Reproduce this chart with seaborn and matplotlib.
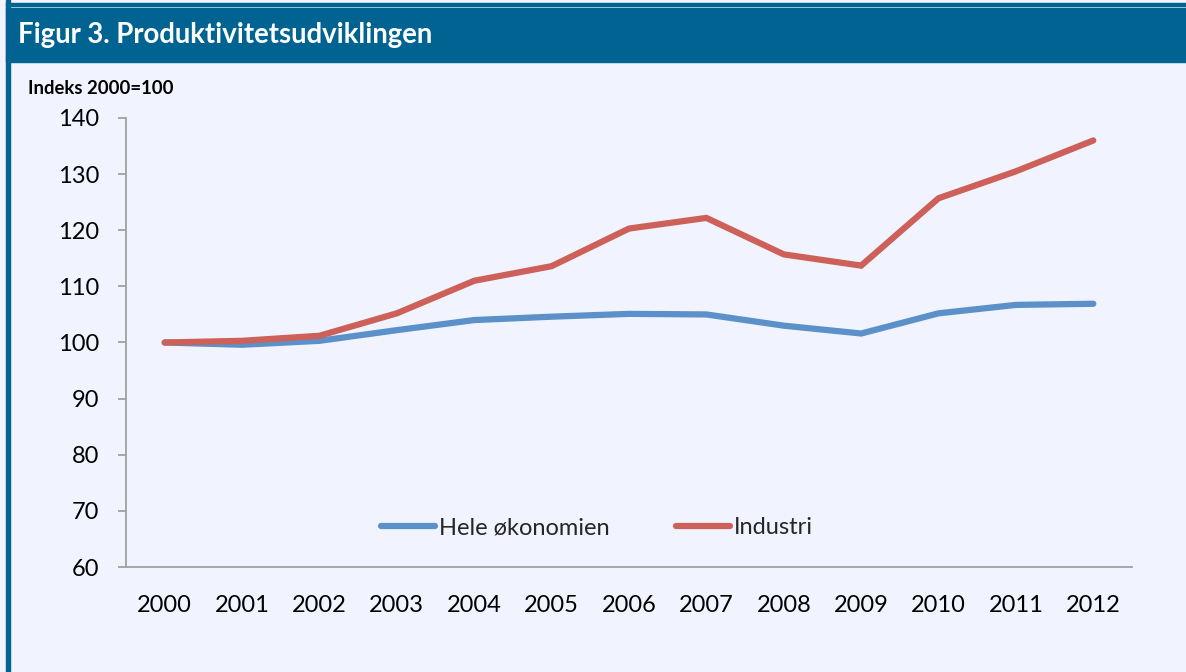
import pandas as pd
import seaborn as sns
import matplotlib.pyplot as plt
from matplotlib.patches import Rectangle

years = list(range(2000, 2013))
hele = [100.0, 99.6, 100.3, 102.2, 104.0, 104.6, 105.1, 105.0, 103.0, 101.6, 105.2, 106.7, 106.9]
industri = [100.0, 100.3, 101.2, 105.2, 111.0, 113.6, 120.3, 122.2, 115.7, 113.7, 125.7, 130.5, 136.0]
series_names = ["Hele økonomien", "Industri"]
yticks = [60, 70, 80, 90, 100, 110, 120, 130, 140]

df = pd.DataFrame({
    "year": years * 2,
    "value": hele + industri,
    "serie": [series_names[0]] * len(years) + [series_names[1]] * len(years),
})

sns.set_theme(style="white")
plt.rcParams['font.family'] = ['Lato', 'DejaVu Sans']

W, H = 1186, 672
bg = "#F1F4FF"
fig = plt.figure(figsize=(W / 100, H / 100), dpi=100, facecolor=bg)

# ramme og overskrift
fig.patches.append(Rectangle((6 / W, 0), 4 / W, 1, transform=fig.transFigure, color="#006391", zorder=0))
fig.patches.append(Rectangle((6 / W, 1 - 6 / H), 1, 3 / H, transform=fig.transFigure, color="#006391", zorder=0))
fig.patches.append(Rectangle((6 / W, 1 - 62 / H), 1, 54 / H, transform=fig.transFigure, color="#006391", zorder=0))
fig.text(18 / W, 1 - 35 / H, "Figur 3. Produktivitetsudviklingen", color="white",
         fontsize=19.8, fontweight="bold", va="center", ha="left")
fig.text(28 / W, 1 - 88 / H, "Indeks 2000=100", color="black",
         fontsize=13.3, fontweight="bold", va="center", ha="left")

ax = fig.add_axes([126 / W, 105 / H, (1132 - 126) / W, (567 - 118) / H])
ax.set_facecolor(bg)

sns.lineplot(data=df, x="year", y="value", hue="serie", palette=["#5B90C8", "#CD6058"],
             linewidth=4.5, ax=ax, legend=True, solid_capstyle="round", solid_joinstyle="miter")

ax.set_xlim(1999.5, 2012.5)
ax.set_ylim(60, 140)
ax.set_yticks(yticks)
ax.set_xticks(years)
ax.set_xticks([y - 0.5 for y in years] + [2012.5], minor=True)
ax.set_xticklabels([str(y) for y in years])
ax.set_xlabel("")
ax.set_ylabel("")

for side in ["top", "right"]:
    ax.spines[side].set_visible(False)
for side in ["left", "bottom"]:
    ax.spines[side].set_color("#A0A0A0")
    ax.spines[side].set_linewidth(1.3)

ax.tick_params(axis="x", which="major", length=0, pad=20, labelsize=17, colors="black")
ax.tick_params(axis="x", which="minor", length=6, width=1.3, color="#A0A0A0", direction="out")
ax.tick_params(axis="y", which="major", length=6, width=1.3, color="#A0A0A0", direction="out",
               left=True, pad=13, labelsize=17, labelcolor="black")

ax.legend(loc="center", bbox_to_anchor=(0.468, 0.087), ncol=2, frameon=False,
          fontsize=17, handlelength=2.3, columnspacing=2.8, handletextpad=0.15)

fig.savefig("out.png", dpi=100, facecolor=bg)
